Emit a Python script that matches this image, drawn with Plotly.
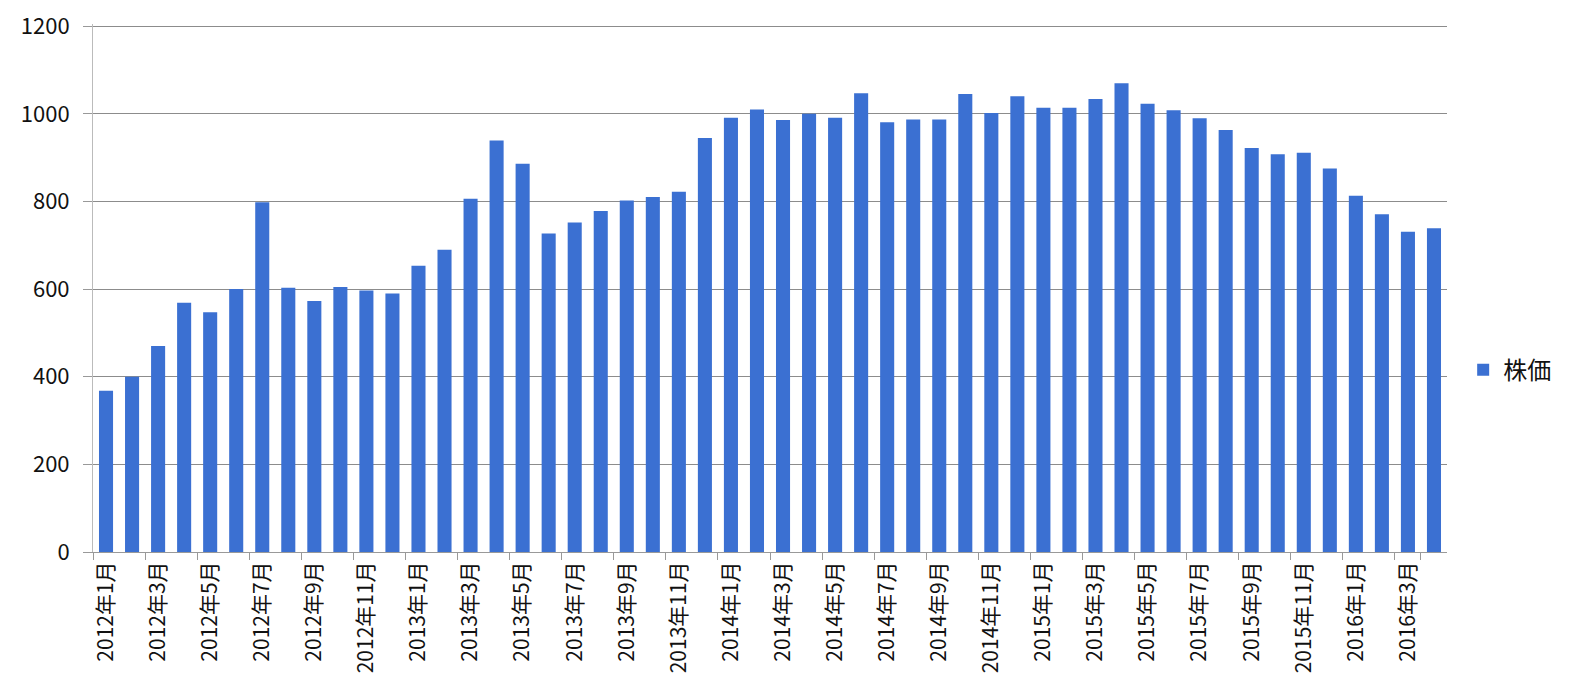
import plotly.graph_objects as go

# 月次の株価 (2012年1月〜2016年4月)
months = [f"{y}年{m}月" for y in range(2012, 2017) for m in range(1, 13)][:52]
prices = [
    368, 400, 470, 569, 547, 600, 798, 603, 573, 605, 597, 590,
    653, 690, 806, 939, 886, 727, 752, 778, 802, 810, 822, 945,
    991, 1010, 986, 1000, 991, 1047, 981, 987, 987, 1045, 1002, 1040,
    1014, 1014, 1034, 1070, 1023, 1008, 990, 963, 922, 908, 911, 875,
    813, 771, 731, 739,
]
y_ticks = [0, 200, 400, 600, 800, 1000, 1200]

fig = go.Figure(go.Bar(
    x=months,
    y=prices,
    name="株価",
    marker=dict(color="#3B70D2", line=dict(width=0)),
))

fig.update_layout(
    width=1558, height=682,
    margin=dict(l=85, r=119, t=16, b=138),
    plot_bgcolor="white",
    paper_bgcolor="white",
    bargap=0.46,
    font=dict(family="Noto Sans CJK JP", color="#111111"),
    showlegend=True,
    legend=dict(xref="container", yref="container",
                x=0.934, y=0.469, xanchor="left", yanchor="middle",
                font=dict(size=24, color="#111111"), itemwidth=30,
                bgcolor="rgba(0,0,0,0)"),
    xaxis=dict(
        type="category",
        automargin=False,
        tickmode="array",
        tickvals=months[::2],
        ticktext=months[::2],
        tickangle=-90,
        tickfont=dict(size=21),
        tickson="boundaries",
        ticks="outside",
        ticklen=7,
        tickcolor="#999999",
        showline=True,
        linecolor="#999999",
        showgrid=False,
        ticklabeloverflow="allow",
    ),
    yaxis=dict(
        automargin=False,
        range=[0, 1205],
        tickvals=y_ticks,
        tickfont=dict(size=22),
        ticklabelstandoff=9,
        ticklabeloverflow="allow",
        showgrid=True,
        gridcolor="#8c8c8c",
        gridwidth=1,
        showline=True,
        linecolor="#bbbbbb",
        zeroline=False,
        ticks="outside",
        ticklen=9,
        tickcolor="#999999",
    ),
)

fig.write_html("out.html")
